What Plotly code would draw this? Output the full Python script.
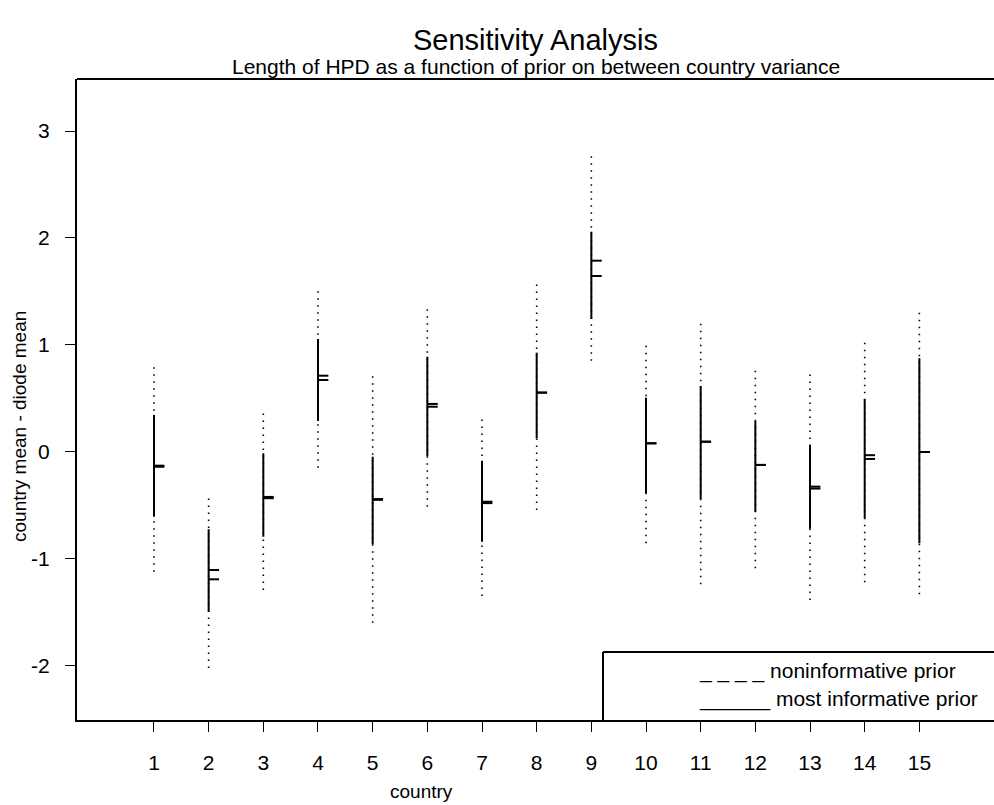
import plotly.graph_objects as go

countries = list(range(1, 16))
# noninformative prior HPD (dotted)
nonin_lo = [-1.12, -2.02, -1.29, -0.147, -1.595, -0.511, -1.346, -0.542, 0.853, -0.853, -1.236, -1.087, -1.383, -1.218, -1.33]
nonin_hi = [0.82, -0.411, 0.383, 1.52, 0.741, 1.362, 0.324, 1.601, 2.792, 1.016, 1.234, 0.782, 0.757, 1.053, 1.336]
# most informative prior HPD (solid)
inf_lo = [-0.605, -1.493, -0.792, 0.29, -0.863, -0.04, -0.838, 0.128, 1.243, -0.386, -0.439, -0.558, -0.717, -0.62, -0.853]
inf_hi = [0.346, -0.722, -0.012, 1.056, -0.044, 0.891, -0.081, 0.928, 2.059, 0.507, 0.617, 0.29, 0.065, 0.495, 0.876]
# posterior means
mean_nonin = [-0.128, -1.103, -0.42, 0.713, -0.44, 0.449, -0.465, 0.555, 1.788, 0.081, 0.096, -0.121, -0.324, -0.03, 0.0]
mean_inf = [-0.138, -1.19, -0.432, 0.673, -0.447, 0.423, -0.478, 0.555, 1.645, 0.081, 0.096, -0.121, -0.342, -0.065, 0.0]
y_ticks = [-2, -1, 0, 1, 2, 3]
y_ticktext = ["-2", "-1", "0", "1", "2", "3"]

tick_len = 0.19
FONT = "Liberation Sans, Arial, sans-serif"

def seg_xy(xs, lo, hi):
    X, Y = [], []
    for x, a, b in zip(xs, lo, hi):
        X += [x, x, None]
        Y += [a, b, None]
    return X, Y

fig = go.Figure()
x, y = seg_xy(countries, nonin_lo, nonin_hi)
fig.add_trace(go.Scatter(x=x, y=y, mode="lines", line=dict(color="black", width=1.6, dash="1.5px,5.5px"),
                         hoverinfo="skip", showlegend=False))
x, y = seg_xy(countries, inf_lo, inf_hi)
fig.add_trace(go.Scatter(x=x, y=y, mode="lines", line=dict(color="black", width=2),
                         hoverinfo="skip", showlegend=False))
for means in (mean_nonin, mean_inf):
    X, Y = [], []
    for c, m in zip(countries, means):
        X += [c, c + tick_len, None]
        Y += [m, m, None]
    fig.add_trace(go.Scatter(x=X, y=Y, mode="lines", line=dict(color="black", width=2),
                             hoverinfo="skip", showlegend=False))

fig.update_layout(
    width=994, height=805,
    margin=dict(l=77, r=0, t=79, b=85),
    plot_bgcolor="white", paper_bgcolor="white",
    font=dict(family=FONT, color="black"),
    showlegend=False,
    xaxis=dict(range=[-0.408, 16.365], tickvals=countries, ticktext=[str(c) for c in countries],
               showgrid=False, zeroline=False, showline=True, linecolor="black", linewidth=2,
               ticks="outside", ticklen=10, tickwidth=1, tickcolor="black",
               tickfont=dict(size=21, family=FONT), ticklabelstandoff=13),
    yaxis=dict(range=[-2.505, 3.486], tickvals=y_ticks, ticktext=y_ticktext,
               showgrid=False, zeroline=False, showline=True, linecolor="black", linewidth=2,
               ticks="outside", ticklen=10, tickwidth=1, tickcolor="black",
               tickfont=dict(size=21, family=FONT), ticklabelstandoff=11),
)

# top frame line
fig.add_shape(type="line", xref="paper", yref="paper", x0=0, x1=1, y0=1, y1=1,
              line=dict(color="black", width=2))
# legend box
lx0 = (603 - 77) / 917
ly1 = (720 - 652) / 641
fig.add_shape(type="line", xref="paper", yref="paper", x0=lx0, x1=lx0, y0=0, y1=ly1,
              line=dict(color="black", width=2))
fig.add_shape(type="line", xref="paper", yref="paper", x0=lx0, x1=1, y0=ly1, y1=ly1,
              line=dict(color="black", width=2))

legend_lines = ["_ _ _ _ noninformative prior", "______ most informative prior"]
legend_y = [671, 699]
for t, py in zip(legend_lines, legend_y):
    fig.add_annotation(text=t, xref="paper", yref="paper", x=(697 - 77) / 917, y=(720 - py) / 641,
                       xanchor="left", yanchor="middle", showarrow=False,
                       font=dict(size=21, family=FONT, color="black"))

fig.add_annotation(text="Sensitivity Analysis", xref="paper", yref="paper", x=0.5, y=1 + (79 - 40) / 641,
                   xanchor="center", yanchor="middle", showarrow=False,
                   font=dict(size=29, family=FONT, color="black"))
fig.add_annotation(text="Length of HPD as a function of prior on between country variance",
                   xref="paper", yref="paper", x=0.5, y=1 + (79 - 67) / 641,
                   xanchor="center", yanchor="middle", showarrow=False,
                   font=dict(size=21, family=FONT, color="black"))
fig.add_annotation(text="country", xref="paper", yref="paper", x=(421 - 77) / 917, y=(720 - 791) / 641,
                   xanchor="center", yanchor="middle", showarrow=False,
                   font=dict(size=19, family=FONT, color="black"))
fig.add_annotation(text="country mean - diode mean", xref="paper", yref="paper", x=(20 - 77) / 917,
                   y=(720 - 427) / 641, xanchor="center", yanchor="middle", textangle=-90, showarrow=False,
                   font=dict(size=19, family=FONT, color="black"))

fig.write_html("out.html")
